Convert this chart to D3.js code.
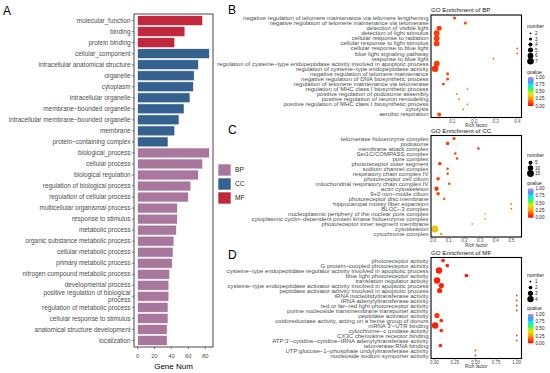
<!DOCTYPE html>
<html>
<head>
<meta charset="utf-8">
<script src="https://cdn.jsdelivr.net/npm/d3@7"></script>
<style>
  body { margin: 0; background: #fff; }
  svg { display: block; font-family: "Liberation Sans", Arial, sans-serif; }
</style>
</head>
<body>
<svg width="550" height="373"></svg>
<script>
// ---- panel A: GO terms with gene numbers
var goTerms = [
  "molecular_function", "binding", "protein binding",
  "cellular_component", "intracellular anatomical structure", "organelle", "cytoplasm",
  "intracellular organelle", "membrane−bounded organelle", "intracellular membrane−bounded organelle",
  "membrane", "protein−containing complex",
  "biological_process", "cellular process", "biological regulation", "regulation of biological process",
  "regulation of cellular process", "multicellular organismal process", "response to stimulus",
  "metabolic process", "organic substance metabolic process", "cellular metabolic process",
  "primary metabolic process", "nitrogen compound metabolic process", "developmental process",
  "positive regulation of biological process", "regulation of metabolic process",
  "cellular response to stimulus", "anatomical structure development", "localization"
];
var goCounts = [77, 56, 44, 85, 72, 67, 66, 62, 55, 49, 44, 36,
  85, 77, 72, 63, 60, 47, 47, 46, 43, 42, 41, 38, 37, 37, 36, 36, 35, 35];
var goOntology = ["MF", "MF", "MF", "CC", "CC", "CC", "CC", "CC", "CC", "CC", "CC", "CC",
  "BP", "BP", "BP", "BP", "BP", "BP", "BP", "BP", "BP", "BP", "BP", "BP", "BP", "BP", "BP", "BP", "BP", "BP"];
var ontologyKeys = ["BP", "CC", "MF"];

// ---- panel B: BP enrichment
var bpTerms = [
  "negative regulation of telomere maintenance via telomere lengthening",
  "negative regulation of telomere maintenance via telomerase",
  "detection of visible light", "detection of light stimulus", "cellular response to radiation",
  "cellular response to light stimulus", "cellular response to blue light", "blue light signaling pathway",
  "response to blue light",
  "regulation of cysteine−type endopeptidase activity involved in apoptotic process",
  "regulation of cysteine−type endopeptidase activity", "negative regulation of telomere maintenance",
  "negative regulation of DNA biosynthetic process", "regulation of telomere maintenance via telomerase",
  "regulation of MHC class I biosynthetic process", "positive regulation of podosome assembly",
  "positive regulation of neuron remodeling", "positive regulation of MHC class I biosynthetic process",
  "cytolysis", "aerobic respiration"
];
var bpRich = [0.11, 0.16, 0.039, 0.027, 0.027, 0.027, 0.4, 0.4, 0.29, 0.028,
  0.02, 0.078, 0.078, 0.058, 0.17, 0.12, 0.13, 0.17, 0.15, 0.039];
var bpNumber = [3, 3, 5, 6, 6, 6, 2, 2, 2, 6, 7, 3, 3, 3, 2, 2, 2, 2, 2, 4];
var bpQvalue = [0.1, 0.12, 0.1, 0.1, 0.1, 0.1, 0.15, 0.15, 0.15, 0.1,
  0.08, 0.12, 0.12, 0.12, 0.2, 0.2, 0.2, 0.2, 0.2, 0.12];

// ---- panel C: CC enrichment
var ccTerms = [
  "telomerase holoenzyme complex", "podosome", "membrane attack complex", "Set1C/COMPASS complex",
  "pore complex", "photoreceptor outer segment", "sodium channel complex", "respiratory chain complex IV",
  "photoreceptor cell cilium", "mitochondrial respiratory chain complex IV", "actin cytoskeleton",
  "9+0 non−motile cilium", "photoreceptor disc membrane", "hippocampal mossy fiber expansion",
  "BLOC−3 complex", "nucleoplasmic periphery of the nuclear pore complex",
  "cytoplasmic cyclin−dependent protein kinase holoenzyme complex",
  "photoreceptor inner segment membrane", "cytoskeleton", "cytochrome complex"
];
var ccRich = [0.134, 0.093, 0.29, 0.142, 0.153, 0.043, 0.093, 0.093, 0.032, 0.103,
  0.022, 0.032, 0.071, 0.5, 0.5, 0.333, 0.333, 0.25, 0.011, 0.052];
var ccNumber = [3, 4, 2, 2, 2, 4, 2, 2, 4, 2, 6, 4, 2, 1, 1, 1, 1, 1, 16, 2];
var ccQvalue = [0.1, 0.08, 0.1, 0.12, 0.12, 0.1, 0.12, 0.12, 0.1, 0.12,
  0.08, 0.1, 0.15, 0.15, 0.15, 0.3, 0.3, 0.25, 0.33, 0.25];

// ---- panel D: MF enrichment
var mfTerms = [
  "photoreceptor activity", "G protein−coupled photoreceptor activity",
  "cysteine−type endopeptidase regulator activity involved in apoptotic process",
  "blue light photoreceptor activity", "translation regulator activity",
  "cysteine−type endopeptidase activator activity involved in apoptotic process",
  "peptidase activator activity involved in apoptotic process", "tRNA nucleotidyltransferase activity",
  "tRNA adenylyltransferase activity", "red or far−red light photoreceptor activity",
  "purine nucleoside transmembrane transporter activity", "peptidase activator activity",
  "oxidoreductase activity, acting on a heme group of donors", "mRNA 3'−UTR binding",
  "cytochrome−c oxidase activity", "CX3C chemokine receptor binding",
  "ATP:3'−cytidine−cytidine−tRNA adenylyltransferase activity", "telomerase RNA binding",
  "UTP:glucose−1−phosphate uridylyltransferase activity", "nucleoside sodium symporter activity"
];
var mfRich = [0.106, 0.158, 0.057, 0.39, 0.033, 0.085, 0.065, 1, 1, 1,
  1, 0.033, 0.085, 0.01, 0.085, 1, 1, 0.075, 0.5, 0.5];
var mfNumber = [2, 2, 4, 2, 4, 3, 3, 1, 1, 1, 1, 3, 2, 4, 2, 1, 1, 2, 1, 1];
var mfQvalue = [0.05, 0.05, 0.05, 0.05, 0.05, 0.05, 0.05, 0.1, 0.1, 0.1,
  0.1, 0.08, 0.08, 0.05, 0.08, 0.1, 0.1, 0.08, 0.12, 0.12];

var svg = d3.select("svg");

// panel letters
[["A", 3, 15], ["B", 228, 14], ["C", 228, 134], ["D", 228, 259]].forEach(function (d) {
  svg.append("text").attr("x", d[1]).attr("y", d[2]).attr("font-size", 12).text(d[0]);
});

// ================= panel A =================
var ontologyColor = d3.scaleOrdinal().domain(ontologyKeys).range(["#a8779c", "#35618f", "#c1283e"]);
var aLeft = 134, aRight = 213, aTop = 14, aBottom = 347;
var ax = d3.scaleLinear().domain([-4.25, 89.25]).range([aLeft, aRight]);
var ay = d3.scalePoint().domain(goTerms).range([aTop, aBottom]).padding(0.6);
var aStep = ay.step();

var gA = svg.append("g");
gA.selectAll("rect.bar")
  .data(goTerms)
  .enter()
  .append("rect")
  .attr("class", "bar")
  .attr("x", ax(0))
  .attr("y", function (d) { return ay(d) - aStep * 0.45; })
  .attr("width", function (d, i) { return ax(goCounts[i]) - ax(0); })
  .attr("height", aStep * 0.9)
  .attr("fill", function (d, i) { return ontologyColor(goOntology[i]); })
  .attr("stroke", "#fff")
  .attr("stroke-width", 0.6);

gA.append("rect")
  .attr("x", aLeft).attr("y", aTop)
  .attr("width", aRight - aLeft).attr("height", aBottom - aTop)
  .attr("fill", "none").attr("stroke", "#333").attr("stroke-width", 0.9);

// wrap long labels like str_wrap(width = 40)
function wrapLabel(s, width) {
  var words = s.split(" "), lines = [], cur = "";
  words.forEach(function (w) {
    if (cur && (cur + " " + w).length > width) { lines.push(cur); cur = w; }
    else cur = cur ? cur + " " + w : w;
  });
  lines.push(cur);
  return lines;
}

goTerms.forEach(function (t) {
  var y = ay(t);
  gA.append("line").attr("x1", aLeft - 2.2).attr("x2", aLeft).attr("y1", y).attr("y2", y)
    .attr("stroke", "#333").attr("stroke-width", 0.6);
  var lines = wrapLabel(t, 40);
  var txt = gA.append("text").attr("x", aLeft - 3.5).attr("text-anchor", "end")
    .attr("font-size", 6.4).attr("fill", "#4d4d4d");
  lines.forEach(function (l, k) {
    txt.append("tspan").attr("x", aLeft - 3.5)
      .attr("y", y + 2.2 + (k - (lines.length - 1) / 2) * 6.6).text(l);
  });
});

[0, 20, 40, 60, 80].forEach(function (v) {
  gA.append("line").attr("x1", ax(v)).attr("x2", ax(v)).attr("y1", aBottom).attr("y2", aBottom + 2.2)
    .attr("stroke", "#333").attr("stroke-width", 0.6);
  gA.append("text").attr("x", ax(v)).attr("y", aBottom + 10.5).attr("text-anchor", "middle")
    .attr("font-size", 5.8).attr("fill", "#4d4d4d").text(v);
});
gA.append("text").attr("x", (aLeft + aRight) / 2).attr("y", 369).attr("text-anchor", "middle")
  .attr("font-size", 8).text("Gene Num");

// legend for A
ontologyKeys.forEach(function (k, i) {
  var y = 164 + i * 14;
  gA.append("rect").attr("x", 218).attr("y", y).attr("width", 13).attr("height", 12)
    .attr("fill", ontologyColor(k)).attr("stroke", "#fff").attr("stroke-width", 0.6);
  gA.append("text").attr("x", 235).attr("y", y + 8.3).attr("font-size", 6.6).attr("fill", "#222").text(k);
});

// ================= dot panels =================
var qColor = d3.scaleLinear()
  .domain([0, 0.25, 0.4, 0.55, 0.7, 0.85, 1])
  .range(["#ff0000", "#ff9400", "#e8e800", "#50ff30", "#00f0f0", "#3a9cff", "#d37cff"]);

var defs = svg.append("defs");
var grad = defs.append("linearGradient").attr("id", "qgrad")
  .attr("x1", 0).attr("y1", 1).attr("x2", 0).attr("y2", 0);
d3.range(0, 1.0001, 0.05).forEach(function (t) {
  grad.append("stop").attr("offset", t).attr("stop-color", qColor(t));
});

function drawDot(cfg) {
  var left = 431, right = 521.5;
  var g = svg.append("g");
  var x = d3.scaleLinear().domain(cfg.xDomain).range([left, right]);
  var y = d3.scalePoint().domain(cfg.terms).range([cfg.top, cfg.bottom]).padding(0.6);
  var r = d3.scaleSqrt().domain(d3.extent(cfg.number)).range([0.9, cfg.rMax]);

  g.append("text").attr("x", left).attr("y", cfg.top - 2.6).attr("font-size", 6.2).attr("fill", "#111")
    .text(cfg.title);

  g.selectAll("circle.pt")
    .data(cfg.terms)
    .enter()
    .append("circle")
    .attr("class", "pt")
    .attr("cx", function (d, i) { return x(cfg.rich[i]); })
    .attr("cy", function (d) { return y(d); })
    .attr("r", function (d, i) { return r(cfg.number[i]); })
    .attr("fill", function (d, i) { return qColor(cfg.q[i]); });

  g.append("rect").attr("x", left).attr("y", cfg.top)
    .attr("width", right - left).attr("height", cfg.bottom - cfg.top)
    .attr("fill", "none").attr("stroke", "#000").attr("stroke-width", 1.1);

  cfg.terms.forEach(function (t) {
    g.append("text").attr("x", left - 2.5).attr("y", y(t) + 2).attr("text-anchor", "end")
      .attr("font-size", 6).attr("fill", "#4d4d4d").text(t);
  });

  cfg.xTicks.forEach(function (v) {
    g.append("line").attr("x1", x(v)).attr("x2", x(v)).attr("y1", cfg.bottom).attr("y2", cfg.bottom + 1.5)
      .attr("stroke", "#333").attr("stroke-width", 0.5);
    g.append("text").attr("x", x(v)).attr("y", cfg.bottom + 5.4).attr("text-anchor", "middle")
      .attr("font-size", 4.5).attr("fill", "#4d4d4d").text(d3.format(cfg.fmt)(v));
  });
  g.append("text").attr("x", (left + right) / 2).attr("y", cfg.bottom + 9.6).attr("text-anchor", "middle")
    .attr("font-size", 4.7).attr("fill", "#333").text("Rich factor");

  // size legend
  g.append("text").attr("x", 527).attr("y", cfg.numTitleY + 1.6).attr("font-size", 5).attr("fill", "#222")
    .text("number");
  cfg.sizeBreaks.forEach(function (b, i) {
    var ky = cfg.keyY + i * cfg.keyStep;
    g.append("circle").attr("cx", 530.5).attr("cy", ky).attr("r", r(b)).attr("fill", "#000");
    g.append("text").attr("x", 535).attr("y", ky + 1.6).attr("font-size", 4.6).attr("fill", "#222").text(b);
  });

  // colour bar
  g.append("text").attr("x", 527).attr("y", cfg.qTitleY + 1.6).attr("font-size", 5).attr("fill", "#222")
    .text("qvalue");
  var qs = d3.scaleLinear().domain([0, 1]).range([cfg.barBottom, cfg.barTop]);
  g.append("rect").attr("x", 528).attr("y", cfg.barTop).attr("width", 5.5)
    .attr("height", cfg.barBottom - cfg.barTop).attr("fill", "url(#qgrad)");
  [0, 0.25, 0.5, 0.75, 1].forEach(function (v) {
    g.append("line").attr("x1", 528).attr("x2", 529).attr("y1", qs(v)).attr("y2", qs(v))
      .attr("stroke", "#fff").attr("stroke-width", 0.4);
    g.append("line").attr("x1", 532.5).attr("x2", 533.5).attr("y1", qs(v)).attr("y2", qs(v))
      .attr("stroke", "#fff").attr("stroke-width", 0.4);
    g.append("text").attr("x", 535.5).attr("y", qs(v) + 1.6).attr("font-size", 4.6).attr("fill", "#222")
      .text(d3.format(".2f")(v));
  });
}

drawDot({
  terms: bpTerms, rich: bpRich, number: bpNumber, q: bpQvalue,
  title: "GO Enrichment of BP", top: 15, bottom: 117.5,
  xDomain: [0.001, 0.4195], xTicks: [0.1, 0.2, 0.3, 0.4], fmt: ".1f", rMax: 3.3,
  numTitleY: 26, sizeBreaks: [2, 3, 4, 5, 6, 7], keyY: 33.3, keyStep: 5.6,
  qTitleY: 72, barTop: 77, barBottom: 106
});

drawDot({
  terms: ccTerms, rich: ccRich, number: ccNumber, q: ccQvalue,
  title: "GO Enrichment of CC", top: 135.5, bottom: 237,
  xDomain: [-0.0134, 0.565], xTicks: [0, 0.1, 0.2, 0.3, 0.4, 0.5], fmt: ".1f", rMax: 3.5,
  numTitleY: 155, sizeBreaks: [5, 10, 15], keyY: 162.7, keyStep: 5.4,
  qTitleY: 183, barTop: 188.5, barBottom: 217.7
});

drawDot({
  terms: mfTerms, rich: mfRich, number: mfNumber, q: mfQvalue,
  title: "GO Enrichment of MF", top: 257.5, bottom: 358.5,
  xDomain: [-0.04, 1.058], xTicks: [0, 0.25, 0.5, 0.75, 1], fmt: ".2f", rMax: 3.2,
  numTitleY: 275, sizeBreaks: [1, 2, 3, 4], keyY: 281.7, keyStep: 5.8,
  qTitleY: 308.7, barTop: 314, barBottom: 343.3
});
</script>
</body>
</html>
